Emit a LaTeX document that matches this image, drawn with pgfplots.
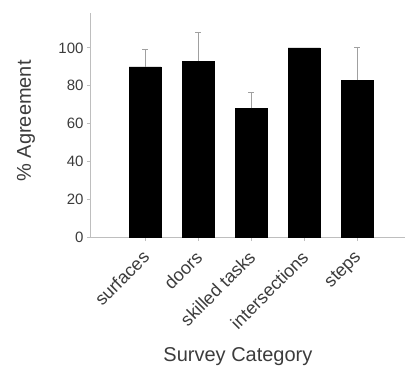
\documentclass[border=0pt]{standalone}
\usepackage{pgfplots}
\pgfplotsset{compat=1.18}
\usepackage{fontspec}
\setmainfont{Liberation Sans}
\definecolor{axgray}{RGB}{190,190,190}
\definecolor{errgray}{RGB}{160,160,160}
\definecolor{txt}{RGB}{60,60,60}
\begin{document}
\begin{tikzpicture}
\path[use as bounding box] (-91pt,-131pt) rectangle (314pt,237pt);
\begin{axis}[
  at={(0,0)}, anchor=south west,
  scale only axis, width=314pt, height=224pt,
  xmin=-1.02, xmax=4.9, ymin=0, ymax=118.5,
  axis x line=bottom, axis y line=left,
  axis line style={axgray, line width=1pt, -},
  xtick={0,1,2,3,4},
  xticklabels={surfaces,doors,skilled tasks,intersections,steps},
  ytick={0,20,40,60,80,100},
  tick style={axgray, line width=1pt},
  tick align=outside, major tick length=4pt,
  x tick label style={rotate=45, anchor=north east, font=\fontsize{18}{18}\selectfont, text=txt, inner sep=0pt, xshift=-8.5pt, yshift=-3pt},
  y tick label style={font=\fontsize{15}{15}\selectfont, text=txt},
  /pgf/number format/assume math mode=true,
  ylabel={\% Agreement},
  xlabel={Survey Category},
  label style={font=\fontsize{20}{20}\selectfont, text=txt},
  ylabel style={at={(axis description cs:-0.207,0.518)}, anchor=center},
  xlabel style={at={(axis description cs:0.468,0)}, anchor=center, yshift=-120pt},
  clip=false,
]
\addplot[ybar, bar width=32pt, fill=black, draw=black]
  coordinates {(0,90) (1,93) (2,68) (3,100) (4,83)};
\addplot[draw=none, mark=none,
  error bars/.cd, y dir=plus, y explicit,
  error bar style={errgray, line width=1pt},
  error mark options={errgray, line width=1pt, mark size=3pt, rotate=90}]
  coordinates {
    (0,90) +- (0,9.3)
    (1,93) +- (0,15.3)
    (2,68) +- (0,8.5)
    (4,83) +- (0,17)
  };
\end{axis}
\end{tikzpicture}
\end{document}
